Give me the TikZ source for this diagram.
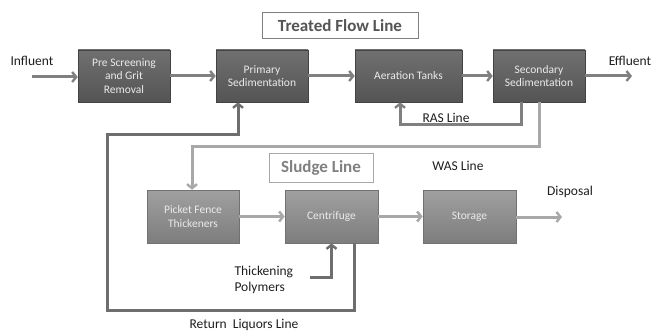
\documentclass[tikz,border=0pt]{standalone}
\usepackage{fontspec}
\setmainfont{Carlito}
\usepackage{tikz}
\usetikzlibrary{arrows.meta, positioning, calc, shadows}
\definecolor{unitdark}{RGB}{112, 112, 112}
\definecolor{unitdeep}{RGB}{84, 84, 84}
\definecolor{unitlight}{RGB}{160, 160, 160}
\definecolor{unitmid}{RGB}{125, 125, 125}
\definecolor{flowgray}{RGB}{128, 128, 128}
\definecolor{wasgray}{RGB}{168, 168, 168}
\definecolor{retgray}{RGB}{110, 110, 110}
\definecolor{labelink}{RGB}{30, 30, 30}

\begin{document}
\begin{tikzpicture}[
  x=1pt, y=-1pt,
  unit/.style={rectangle, draw=unitdeep!80!black, line width=0.6pt,
               top color=unitdark, bottom color=unitdeep,
               text=white!92!black, align=center, minimum height=52pt,
               minimum width=92pt, font=\fontsize{11.5}{13.5}\selectfont,
               drop shadow={shadow xshift=1.2pt, shadow yshift=-1.2pt,
                            opacity=0.35}},
  sludgeunit/.style={unit, draw=unitmid!90!black,
               top color=unitlight, bottom color=unitmid, minimum height=53pt},
  title/.style={rectangle, draw=flowgray, line width=1pt, fill=white,
                font=\fontsize{17}{20}\selectfont\bfseries, inner sep=0pt},
  tag/.style={font=\fontsize{13.5}{15.5}\selectfont, text=labelink},
  flow/.style={draw=flowgray, line width=3pt,
               -{Straight Barb[length=4pt, width=10pt, line width=2.4pt]}},
  >=Stealth
]
  \useasboundingbox (0,0) rectangle (655,331);

  % ── Titles ──────────────────────────────────────────────────────────────────
  \node[title, text=unitdeep, minimum width=156pt, minimum height=26pt]
    (treated) at (340,26) {Treated Flow Line};
  \node[title, draw=wasgray, text=flowgray, minimum width=104pt,
        minimum height=28pt] (sludge) at (321,168) {Sludge Line};

  % ── Treated flow units ──────────────────────────────────────────────────────
  \node[unit]                    (pre)  at (124,76)   {Pre Screening\\and Grit\\Removal};
  \node[unit]                    (prim) at (262,76)   {Primary\\Sedimentation};
  \node[unit, minimum width=107pt] (aer) at (408.5,76) {Aeration Tanks};
  \node[unit]                    (sec)  at (539,76)   {Secondary\\Sedimentation};

  % ── Sludge units ────────────────────────────────────────────────────────────
  \node[sludgeunit]                    (pick) at (193,216.5)   {Picket Fence\\Thickeners};
  \node[sludgeunit, minimum width=93pt] (cent) at (331.5,216.5) {Centrifuge};
  \node[sludgeunit, minimum width=93pt] (stor) at (469.5,216.5) {Storage};

  % ── Free ends ───────────────────────────────────────────────────────────────
  \coordinate (inf)  at (32,77);
  \coordinate (eff)  at (632,76);
  \coordinate (disp) at (562,217);
  \coordinate (poly) at (310,277);

  % ── Labels ──────────────────────────────────────────────────────────────────
  \node[tag] (influent) at (32,61)   {Influent};
  \node[tag] (effluent) at (630,61)  {Effluent};
  \node[tag] (ras)      at (446,118) {RAS Line};
  \node[tag] (was)      at (458,166) {WAS Line};
  \node[tag] (disposal) at (570,192) {Disposal};
  \node[tag, anchor=west, align=left] (polymers) at (231,280)
    {Thickening\\Polymers};
  \node[tag] (liquors)  at (244,325) {Return\ \ Liquors Line};

  % ── Treated flow line ───────────────────────────────────────────────────────
  \draw[flow] (inf) -- (inf -| pre.west);
  \draw[flow] (pre) -- (prim);
  \draw[flow] (prim) -- (aer);
  \draw[flow] (aer) -- (sec);
  \draw[flow] (sec) -- (eff);

  % ── RAS and WAS lines ───────────────────────────────────────────────────────
  \draw[flow] ($(sec.south)+(-18,0)$) |- (400,125) -- (400,0 |- aer.south);
  \draw[flow, draw=wasgray] (539,0 |- sec.south) |- (192,147) -- (192,0 |- pick.north);

  % ── Sludge line ─────────────────────────────────────────────────────────────
  \draw[flow, draw=wasgray] (pick) -- (cent);
  \draw[flow, draw=wasgray] (cent) -- (stor);
  \draw[flow, draw=wasgray] (stor.east |- disp) -- (disp);
  \draw[flow, draw=retgray] (poly) -| (cent.south);

  % ── Return liquors line ─────────────────────────────────────────────────────
  \draw[flow, draw=retgray] (354,0 |- cent.south) |- (107,310) |- (238,135)
    -- (238,0 |- prim.south);
\end{tikzpicture}
\end{document}
